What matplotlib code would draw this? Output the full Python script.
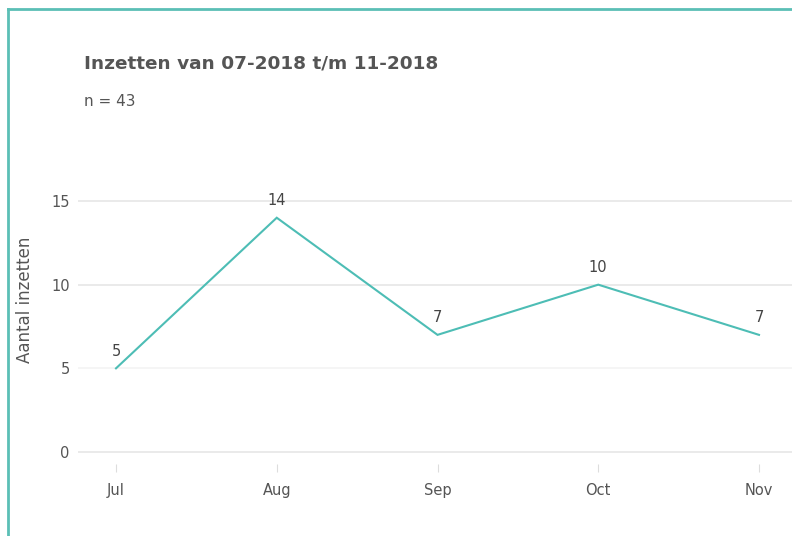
import matplotlib
matplotlib.use("Agg")
import matplotlib.pyplot as plt
from matplotlib.lines import Line2D

months = ["Jul", "Aug", "Sep", "Oct", "Nov"]
counts = [5, 14, 7, 10, 7]
yticks = [0, 5, 10, 15]
title = "Inzetten van 07-2018 t/m 11-2018"
subtitle = "n = 43"
ylabel = "Aantal inzetten"

W, H = 792, 536
fig = plt.figure(figsize=(W / 100, H / 100), dpi=100)
plt.rcParams['font.family'] = ['DejaVu Sans']

# axes placement in pixels
left_px, right_px = 78, 792
top_px, bottom_px = 180, 464
ax = fig.add_axes([left_px / W, 1 - bottom_px / H, (right_px - left_px) / W, (bottom_px - top_px) / H])

x = list(range(len(months)))
ax.plot(x, counts, color="#4dbdb5", lw=1.5, solid_joinstyle="miter")

ppu = (452 - 201) / 15.0
ax.set_ylim(-(464 - 452) / ppu, 15 + (201 - 180) / ppu)
ax.set_xlim(-(116 - 78) / 160.75, 4 + (792 - 759) / 160.75)

for yv in yticks:
    ax.axhline(yv, color="#e6e6e6" if yv != 5 else "#f3f3f3", lw=1.2, zorder=0)

for xi, v in zip(x, counts):
    ax.annotate(str(v), (xi, v), xytext=(0, 7), textcoords="offset points",
                ha="center", va="bottom", fontsize=10.5, color="#444444")

ax.set_yticks(yticks)
ax.set_yticklabels([str(t) for t in yticks])
ax.set_xticks(x)
ax.set_xticklabels(months)
ax.tick_params(axis="y", length=0, pad=6, labelsize=10.5, labelcolor="#555555")
ax.tick_params(axis="x", length=6, width=0.8, color="#dddddd", pad=8, labelsize=10.5, labelcolor="#555555")
for s in ax.spines.values():
    s.set_visible(False)

fig.text(25 / W, 1 - 300 / H, ylabel, fontsize=12, color="#555555", rotation=90, va="center", ha="center")

fig.text(84 / W, 1 - 63 / H, title, fontsize=13.3, fontweight="bold", color="#555555", va="center", ha="left")
fig.text(84 / W, 1 - 101 / H, subtitle, fontsize=11, color="#555555", va="center", ha="left")

# teal border (left and top)
bc = "#5bbfb6"
fig.add_artist(Line2D([7.5 / W, 7.5 / W], [0, 1 - 8.5 / H], color=bc, lw=2, transform=fig.transFigure))
fig.add_artist(Line2D([7.5 / W, 1], [1 - 8.5 / H, 1 - 8.5 / H], color=bc, lw=2, transform=fig.transFigure))

fig.savefig("out.png", dpi=100)
